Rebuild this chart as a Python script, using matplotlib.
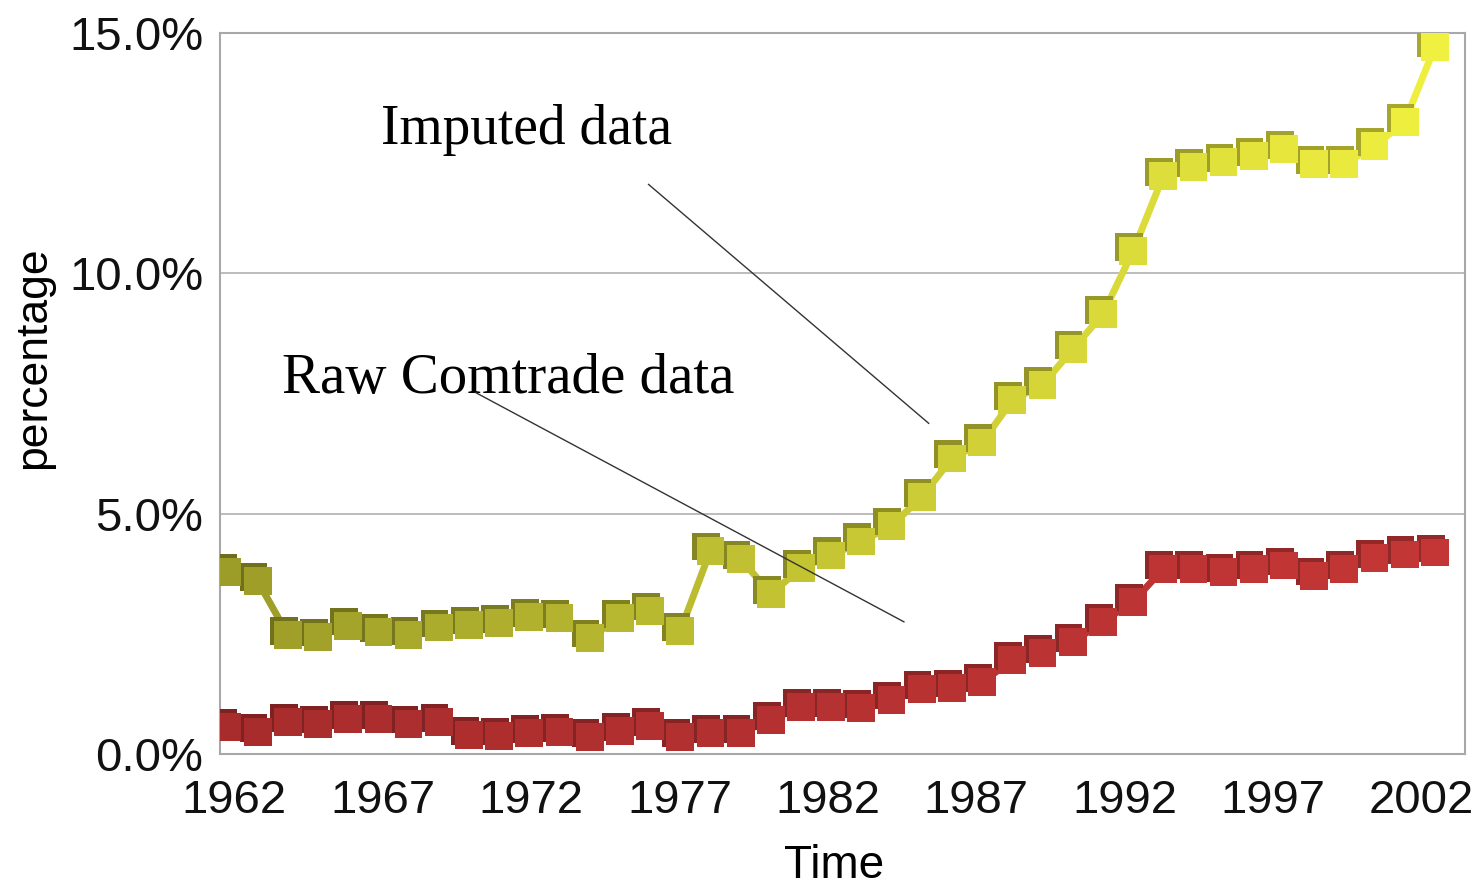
import numpy as np
import matplotlib
matplotlib.use("Agg")
import matplotlib.pyplot as plt
from matplotlib.collections import LineCollection
from matplotlib.colors import to_rgb
from matplotlib.ticker import PercentFormatter
import matplotlib.transforms as mtransforms

years = np.arange(1962, 2003)

imputed = [3.79, 3.60, 2.48, 2.44, 2.67, 2.54, 2.48, 2.63, 2.69, 2.73,
           2.85, 2.83, 2.42, 2.83, 2.98, 2.56, 4.23, 4.06, 3.33, 3.87,
           4.13, 4.42, 4.75, 5.35, 6.15, 6.48, 7.36, 7.68, 8.42, 9.15,
           10.46, 12.02, 12.21, 12.31, 12.44, 12.58, 12.27, 12.27, 12.65, 13.15,
           14.71]

raw = [0.56, 0.46, 0.67, 0.63, 0.73, 0.73, 0.63, 0.67, 0.40, 0.38,
       0.44, 0.46, 0.35, 0.48, 0.58, 0.35, 0.44, 0.44, 0.71, 0.98,
       0.98, 0.96, 1.13, 1.35, 1.38, 1.50, 1.95, 2.10, 2.33, 2.75,
       3.17, 3.85, 3.85, 3.79, 3.85, 3.92, 3.71, 3.85, 4.08, 4.15,
       4.19]

tick_years = [1962, 1967, 1972, 1977, 1982, 1987, 1992, 1997, 2002]

SANS = ["Liberation Sans", "DejaVu Sans"]
SERIF = ["Liberation Serif", "DejaVu Serif"]


def blend(c1, c2, n):
    a, b = np.array(to_rgb(c1)), np.array(to_rgb(c2))
    t = np.linspace(0, 1, n)[:, None]
    return a + (b - a) * t


def cube_series(ax, x, y, c_left, c_right, dark_factor):
    cols = blend(c_left, c_right, len(x))
    pts = np.column_stack([x, y])
    segs = np.stack([pts[:-1], pts[1:]], axis=1)
    ax.add_collection(LineCollection(segs, colors=cols[:-1], linewidths=5,
                                     zorder=3, capstyle="round"))
    # darker back face to fake the 3D cube look
    shadow = mtransforms.offset_copy(ax.transData, fig=ax.figure, x=-3, y=3, units="points")
    ax.scatter(x, y, s=20 ** 2, marker="s", c=cols * dark_factor, transform=shadow,
               zorder=4, linewidths=0)
    ax.scatter(x, y, s=20 ** 2, marker="s", c=cols, zorder=5, linewidths=0)


fig = plt.figure(figsize=(14.83, 8.92), dpi=100)
ax = fig.add_axes([0.1483, 0.1547, 0.8396, 0.8083])

cube_series(ax, years, imputed, "#9c9c28", "#f0f040", 0.7)
cube_series(ax, years, raw, "#a82c2c", "#c43636", 0.75)

ax.set_xlim(1961.75, 2003.0)
ax.set_ylim(0, 15)
ax.set_yticks([0, 5, 10, 15])
ax.yaxis.set_major_formatter(PercentFormatter(xmax=100, decimals=1))
# category labels sit slightly inside the outer markers in the original
tick_pos = [1962.23 + (t - 1962) * 0.983 for t in tick_years]
ax.set_xticks(tick_pos)
ax.set_xticklabels([str(t) for t in tick_years])
ax.tick_params(axis="both", length=0, labelsize=34, colors="#111111")
ax.tick_params(axis="y", pad=12)
ax.tick_params(axis="x", pad=18)
ax.grid(axis="y", color="#b0b0b0", linewidth=1.2)
ax.set_axisbelow(True)
for sp in ax.spines.values():
    sp.set_color("#a8a8a8")
    sp.set_linewidth(1.5)

ax.set_ylabel("percentage", fontsize=32, family=SANS)
ax.yaxis.set_label_coords(-0.133, 0.55)
ax.set_xlabel("Time", fontsize=33, family=SANS)
ax.xaxis.set_label_coords(0.4936, -0.125)

ax.text(1967.07, 12.69, "Imputed data", fontsize=40, family=SERIF, ha="left", va="baseline")
ax.text(1963.82, 7.52, "Raw Comtrade data", fontsize=41, family=SERIF, ha="left", va="baseline")
ax.plot([1975.95, 1985.23], [11.85, 6.88], color="#333333", linewidth=1.0, zorder=6)
ax.plot([1970.22, 1984.41], [7.52, 2.75], color="#333333", linewidth=1.0, zorder=6)

for lbl in ax.get_xticklabels() + ax.get_yticklabels():
    lbl.set_family(SANS)

fig.savefig("out.png", dpi=100)
